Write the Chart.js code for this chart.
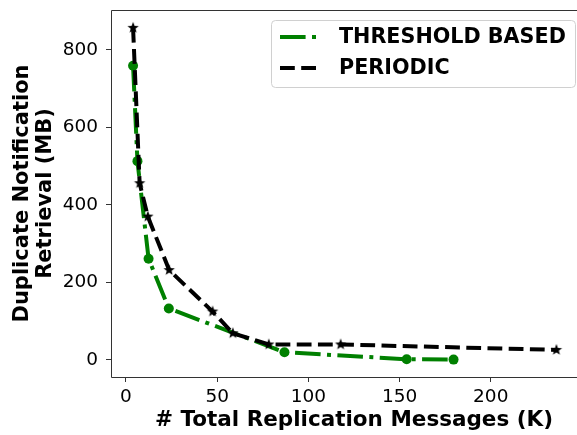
<!DOCTYPE html>
<html>
<head>
<meta charset="utf-8">
<script src="https://cdn.jsdelivr.net/npm/chart.js@4"></script>
<style>
  body { margin: 0; background: #fff; }
  #wrap { width: 577px; height: 435px; }
</style>
</head>
<body>
<div id="wrap"><canvas id="chart" width="577" height="435"></canvas></div>
<script>
// data
const xThreshold = [3.9, 6.3, 12.4, 23.5, 86.9, 153.9, 179.6];
const yThreshold = [759, 513, 261, 133, 20, 2, 1];
const xPeriodic = [3.9, 7.5, 12, 23.7, 47.5, 58.6, 78.3, 117.7, 236];
const yPeriodic = [857, 456, 370, 232, 125, 69, 40, 40, 26];
const xTicks = [0, 50, 100, 150, 200];
const yTicks = [0, 200, 400, 600, 800];
const seriesNames = ["THRESHOLD BASED", "PERIODIC"];
const xTitle = "# Total Replication Messages (K)";

const GREEN = "#008000";
const FONT = "'DejaVu Sans', sans-serif";

// filled 5-point star marker (like matplotlib '*')
function makeStar(r) {
  const c = document.createElement("canvas");
  const s = Math.ceil(r * 2 + 2);
  c.width = s; c.height = s;
  const g = c.getContext("2d");
  g.translate(s / 2, s / 2);
  g.beginPath();
  for (let i = 0; i < 10; i++) {
    const rad = i % 2 === 0 ? r : r * 0.42;
    const a = -Math.PI / 2 + i * Math.PI / 5;
    g.lineTo(Math.cos(a) * rad, Math.sin(a) * rad);
  }
  g.closePath();
  g.fillStyle = "#000";
  g.fill();
  return c;
}
const star = makeStar(6);

const toPoints = (xs, ys) => xs.map((x, i) => ({ x: x, y: ys[i] }));

// frame (no right spine: the axes run past the picture edge), x title, legend
const framePlugin = {
  id: "frame",
  afterDatasetsDraw(chart) {
    const { ctx, chartArea: a } = chart;
    ctx.save();
    ctx.strokeStyle = "#333";
    ctx.lineWidth = 1;
    ctx.beginPath();
    ctx.moveTo(chart.width, a.top + 0.5);
    ctx.lineTo(a.left + 0.5, a.top + 0.5);
    ctx.lineTo(a.left + 0.5, a.bottom + 0.5);
    ctx.lineTo(chart.width, a.bottom + 0.5);
    ctx.stroke();

    // x title, centred on the full (cropped) axes width
    ctx.fillStyle = "#000";
    ctx.font = "bold 21.5px " + FONT;
    ctx.textAlign = "center";
    ctx.textBaseline = "middle";
    ctx.fillText(xTitle, 354, 420);
    ctx.textAlign = "left";

    // legend box
    const bx = 271, by = 20, bw = 304, bh = 67, r = 4;
    ctx.beginPath();
    ctx.roundRect(bx + 0.5, by + 0.5, bw, bh, r);
    ctx.fillStyle = "rgba(255,255,255,0.8)";
    ctx.fill();
    ctx.strokeStyle = "#d0d0d0";
    ctx.stroke();

    const rows = [
      { y: 37, color: GREEN, dash: [25.6, 6.4, 4, 6.4] },
      { y: 68, color: "#000", dash: [14.8, 6.4] }
    ];
    rows.forEach((row, i) => {
      ctx.beginPath();
      ctx.setLineDash(row.dash);
      ctx.lineWidth = 4;
      ctx.strokeStyle = row.color;
      ctx.moveTo(280, row.y);
      ctx.lineTo(317, row.y);
      ctx.stroke();
      ctx.setLineDash([]);
      ctx.fillStyle = "#000";
      ctx.font = "bold 20.7px " + FONT;
      ctx.textBaseline = "middle";
      ctx.fillText(seriesNames[i], 339, row.y + 0.5);
    });
    ctx.restore();
  }
};

new Chart(document.getElementById("chart"), {
  type: "scatter",
  data: {
    datasets: [
      {
        label: seriesNames[0],
        data: toPoints(xThreshold, yThreshold),
        showLine: true,
        borderColor: GREEN,
        backgroundColor: GREEN,
        borderWidth: 4,
        borderDash: [25.6, 6.4, 4, 6.4],
        pointStyle: "circle",
        pointRadius: 5,
        pointBorderWidth: 0,
        order: 2
      },
      {
        label: seriesNames[1],
        data: toPoints(xPeriodic, yPeriodic),
        showLine: true,
        borderColor: "#000",
        backgroundColor: "#000",
        borderWidth: 4,
        borderDash: [14.8, 6.4],
        pointStyle: star,
        pointRadius: 6,
        order: 1
      }
    ]
  },
  options: {
    responsive: false,
    animation: false,
    layout: { padding: { top: 10, right: 0, left: 0, bottom: 0 } },
    plugins: {
      legend: { display: false },
      tooltip: { enabled: false }
    },
    scales: {
      x: {
        type: "linear",
        min: -8.2,
        max: 241.8,
        afterBuildTicks: s => { s.ticks = xTicks.map(v => ({ value: v })); },
        afterFit: s => { s.height = 58; s.paddingLeft = 0; s.paddingRight = 0; },
        grid: { drawOnChartArea: false, tickLength: 5, color: "#333" },
        border: { display: false },
        ticks: { color: "#000", font: { family: FONT, size: 18.5 }, padding: 4, maxRotation: 0 }
      },
      y: {
        type: "linear",
        min: -43.9,
        max: 903,
        afterBuildTicks: s => { s.ticks = yTicks.map(v => ({ value: v })); },
        afterFit: s => { s.width = 111; s.paddingTop = 0; s.paddingBottom = 0; },
        grid: { drawOnChartArea: false, tickLength: 5, color: "#333" },
        border: { display: false },
        ticks: { color: "#000", font: { family: FONT, size: 18.5 }, padding: 8 },
        title: {
          display: true,
          text: ["Duplicate Notification", "Retrieval (MB)"],
          color: "#000",
          font: { family: FONT, size: 21, weight: "bold", lineHeight: 1.05 },
          padding: { top: 12, bottom: 4 }
        }
      }
    }
  },
  plugins: [framePlugin]
});
</script>
</body>
</html>
